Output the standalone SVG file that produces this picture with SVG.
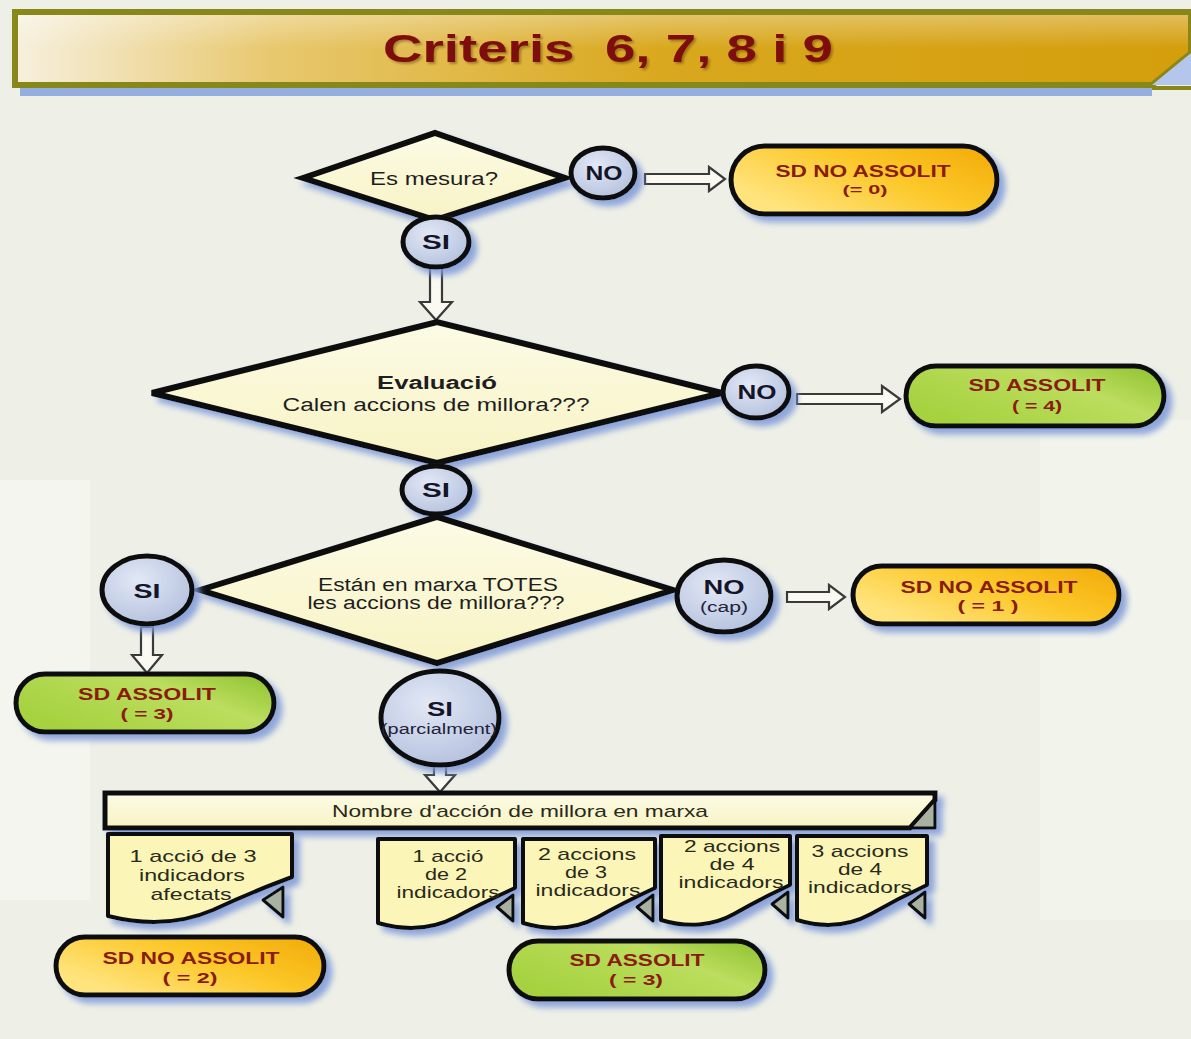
<svg xmlns="http://www.w3.org/2000/svg" width="1191" height="1039" viewBox="0 0 1191 1039">
  <defs>
    <filter id="shadow" x="-20%" y="-20%" width="150%" height="170%">
      <feGaussianBlur in="SourceAlpha" stdDeviation="3"/>
      <feOffset dx="6" dy="6" result="off"/>
      <feFlood flood-color="#7d98d8" flood-opacity="0.85"/>
      <feComposite in2="off" operator="in" result="sh"/>
      <feMerge><feMergeNode in="sh"/><feMergeNode in="SourceGraphic"/></feMerge>
    </filter>
    <filter id="txtShadow" x="-5%" y="-20%" width="110%" height="150%">
      <feGaussianBlur in="SourceAlpha" stdDeviation="1"/>
      <feOffset dx="1.5" dy="1.5" result="off"/>
      <feFlood flood-color="#5a3a00" flood-opacity="0.45"/>
      <feComposite in2="off" operator="in" result="sh"/>
      <feMerge><feMergeNode in="sh"/><feMergeNode in="SourceGraphic"/></feMerge>
    </filter>
    <linearGradient id="titleFill" x1="0" y1="0" x2="1" y2="0">
      <stop offset="0" stop-color="#f6f0de"/>
      <stop offset="0.22" stop-color="#e8c86e"/>
      <stop offset="0.55" stop-color="#d9a81e"/>
      <stop offset="1" stop-color="#d49e0c"/>
    </linearGradient>
    <linearGradient id="titleGloss" x1="0" y1="0" x2="0" y2="1">
      <stop offset="0" stop-color="#ffffff" stop-opacity="0.35"/>
      <stop offset="0.5" stop-color="#ffffff" stop-opacity="0"/>
    </linearGradient>
    <linearGradient id="orange" x1="0" y1="0.6" x2="1" y2="0">
      <stop offset="0" stop-color="#ffe47e"/>
      <stop offset="0.5" stop-color="#fcc82a"/>
      <stop offset="1" stop-color="#f2aa06"/>
    </linearGradient>
    <linearGradient id="green" x1="0" y1="0.6" x2="1" y2="0">
      <stop offset="0" stop-color="#a6d240"/>
      <stop offset="0.6" stop-color="#bcdd5e"/>
      <stop offset="1" stop-color="#8cc12e"/>
    </linearGradient>
    <radialGradient id="bubble" cx="0.4" cy="0.35" r="0.7">
      <stop offset="0" stop-color="#e2e8f5"/>
      <stop offset="1" stop-color="#b4c1de"/>
    </radialGradient>
    <linearGradient id="pale" x1="0" y1="0" x2="0" y2="1">
      <stop offset="0" stop-color="#fcfbe6"/>
      <stop offset="1" stop-color="#f8f3c4"/>
    </linearGradient>
    <style>
      .dia { fill: url(#pale); stroke: #111; stroke-width: 6; stroke-linejoin: miter; filter: url(#shadow); }
      .bub { fill: url(#bubble); stroke: #111; stroke-width: 5; filter: url(#shadow); }
      .term { stroke: #111; stroke-width: 5; filter: url(#shadow); }
      .doc { fill: #fbf6b8; stroke: #111; stroke-width: 4; stroke-linejoin: round; }
      .curl { fill: #a9b1a2; stroke: #111; stroke-width: 3; stroke-linejoin: round; }
      .arr { fill: #fafaf2; stroke: #3a3a3a; stroke-width: 2.2; stroke-linejoin: miter; }
      text { font-family: "Liberation Sans", Arial, sans-serif; text-anchor: middle; fill: #1e1e1e; }
      .lbl { font-size: 18px; }
      .bold { font-weight: bold; }
      .bl { font-size: 20px; font-weight: bold; fill: #15152a; }
      .sm { font-size: 14px; fill: #22223a; }
      .tt { font-size: 17px; font-weight: bold; fill: #8a1c0c; }
      .ts { font-size: 15px; font-weight: bold; fill: #8a1c0c; }
      .dt { font-size: 17px; fill: #2a2a1a; }
    </style>
  </defs>

  <!-- backdrop -->
  <rect x="0" y="0" width="1191" height="1039" fill="#eef0e7"/>
  <rect x="0" y="480" width="90" height="420" fill="#f3f5ee"/>
  <rect x="1040" y="420" width="151" height="500" fill="#f2f4ec"/>

  <!-- title banner -->
  <g id="title">
    <rect x="20" y="88" width="1132" height="8" fill="#94aee0"/>
    <polygon points="15,12 1191,12 1191,53 1152,85 15,85" fill="url(#titleFill)"/>
    <polygon points="15,12 1191,12 1191,53 1152,85 15,85" fill="url(#titleGloss)"/>
    <polygon points="15,12 1191,12 1191,53 1152,85 15,85" fill="none" stroke="#88881a" stroke-width="6" stroke-linejoin="miter"/>
    <polygon points="1152,85 1191,53 1191,85" fill="#b4c6ec"/>
    <line x1="1152" y1="88" x2="1191" y2="88" stroke="#88881a" stroke-width="4"/>
    <text x="608" y="62" filter="url(#txtShadow)" textLength="450" lengthAdjust="spacingAndGlyphs" style="font-size:39px;font-weight:bold;fill:#7e0a0a;white-space:pre">Criteris  6, 7, 8 i 9</text>
  </g>

  <!-- connectors -->
  <g id="connectors">
    <polygon class="arr" points="645,174 709,174 709,167 725,179 709,191 709,184 645,184"/>
    <polygon class="arr" points="430,268 442,268 442,302 452,302 436,320 420,302 430,302"/>
    <polygon class="arr" points="797,394 882,394 882,386 900,399 882,412 882,404 797,404"/>
    <polygon class="arr" points="787,592 829,592 829,585 845,597 829,609 829,602 787,602"/>
    <polygon class="arr" points="141,627 153,627 153,655 162,655 147,673 132,655 141,655"/>
    <polygon class="arr" points="434,766 446,766 446,775 455,775 440,792 425,775 434,775"/>
  </g>

  <!-- decision: Es mesura? -->
  <g id="q-mesura">
    <polygon class="dia" points="303,178 435,133 565,178 435,220"/>
    <text class="lbl" x="434" y="185" textLength="128" lengthAdjust="spacingAndGlyphs">Es mesura?</text>
  </g>
  <g id="no-1">
    <ellipse class="bub" cx="603" cy="173" rx="32" ry="25"/>
    <text class="bl" x="604" y="180" textLength="37" lengthAdjust="spacingAndGlyphs">NO</text>
  </g>
  <g id="end-0">
    <rect class="term" x="731" y="146" width="266" height="68" rx="34" fill="url(#orange)"/>
    <text class="tt" x="863" y="177" textLength="175" lengthAdjust="spacingAndGlyphs">SD NO ASSOLIT</text>
    <text class="ts" x="865" y="194" style="font-size:13px" textLength="45" lengthAdjust="spacingAndGlyphs">(= 0)</text>
  </g>
  <g id="si-1">
    <ellipse class="bub" cx="436" cy="242" rx="33" ry="25"/>
    <text class="bl" x="436" y="249" textLength="28" lengthAdjust="spacingAndGlyphs">SI</text>
  </g>

  <!-- decision: Evaluació -->
  <g id="q-evaluacio">
    <polygon class="dia" points="152,393 437,322 722,393 437,463"/>
    <text class="lbl bold" x="437" y="389" textLength="120" lengthAdjust="spacingAndGlyphs">Evaluació</text>
    <text class="lbl" x="436" y="411" textLength="307" lengthAdjust="spacingAndGlyphs">Calen accions de millora???</text>
  </g>
  <g id="no-2">
    <ellipse class="bub" cx="756" cy="392" rx="33" ry="26"/>
    <text class="bl" x="757" y="399" textLength="39" lengthAdjust="spacingAndGlyphs">NO</text>
  </g>
  <g id="end-4">
    <rect class="term" x="906" y="366" width="258" height="60" rx="30" fill="url(#green)"/>
    <text class="tt" x="1037" y="391" textLength="137" lengthAdjust="spacingAndGlyphs">SD ASSOLIT</text>
    <text class="ts" x="1037" y="411" textLength="50" lengthAdjust="spacingAndGlyphs">( = 4)</text>
  </g>
  <g id="si-2">
    <ellipse class="bub" cx="436" cy="490" rx="34" ry="24"/>
    <text class="bl" x="436" y="497" textLength="28" lengthAdjust="spacingAndGlyphs">SI</text>
  </g>

  <!-- decision: all actions running? -->
  <g id="q-totes">
    <polygon class="dia" points="200,590 437,517 673,590 437,663"/>
    <text class="lbl" x="438" y="591" textLength="240" lengthAdjust="spacingAndGlyphs">Están en marxa TOTES</text>
    <text class="lbl" x="436" y="609" textLength="257" lengthAdjust="spacingAndGlyphs">les accions de millora???</text>
  </g>
  <g id="si-3">
    <ellipse class="bub" cx="147" cy="590" rx="45" ry="34"/>
    <text class="bl" x="147" y="598" textLength="27" lengthAdjust="spacingAndGlyphs">SI</text>
  </g>
  <g id="no-3">
    <ellipse class="bub" cx="724" cy="596" rx="47" ry="36"/>
    <text class="bl" x="724" y="594" textLength="41" lengthAdjust="spacingAndGlyphs">NO</text>
    <text class="sm" x="724" y="612" textLength="48" lengthAdjust="spacingAndGlyphs">(cap)</text>
  </g>
  <g id="end-1">
    <rect class="term" x="853" y="566" width="266" height="58" rx="29" fill="url(#orange)"/>
    <text class="tt" x="989" y="593" textLength="177" lengthAdjust="spacingAndGlyphs">SD NO ASSOLIT</text>
    <text class="ts" x="988" y="611" textLength="61" lengthAdjust="spacingAndGlyphs">( = 1 )</text>
  </g>
  <g id="end-3a">
    <rect class="term" x="16" y="674" width="258" height="58" rx="29" fill="url(#green)"/>
    <text class="tt" x="147" y="700" textLength="138" lengthAdjust="spacingAndGlyphs">SD ASSOLIT</text>
    <text class="ts" x="147" y="719" textLength="53" lengthAdjust="spacingAndGlyphs">( = 3)</text>
  </g>
  <g id="si-partial">
    <ellipse class="bub" cx="440" cy="718" rx="59" ry="47"/>
    <text class="bl" x="440" y="716" style="font-size:21px" textLength="26" lengthAdjust="spacingAndGlyphs">SI</text>
    <text class="sm" x="439" y="734" textLength="116" lengthAdjust="spacingAndGlyphs">(parcialment)</text>
  </g>

  <!-- count bar -->
  <g id="count-bar">
    <g filter="url(#shadow)">
      <polygon points="105,793 935,793 935,800 910,828 105,828" fill="url(#pale)" stroke="#111" stroke-width="5" stroke-linejoin="miter"/>
      <polygon class="curl" points="910,828 935,800 935,828"/>
    </g>
    <text class="dt" x="520" y="817" textLength="376" lengthAdjust="spacingAndGlyphs">Nombre d'acción de millora en marxa</text>
  </g>

  <!-- outcome documents -->
  <g id="doc-1" transform="translate(108,834)">
    <g filter="url(#shadow)">
      <path class="doc" d="M0,0 H184 V43 C165,50 135,62 105,76 C75,89 40,92 0,82 Z"/>
      <polygon class="curl" points="155,66 175,53 175,83"/>
    </g>
    <text class="dt" x="85" y="28" textLength="127" lengthAdjust="spacingAndGlyphs">1 acció de 3</text>
    <text class="dt" x="84" y="47" textLength="106" lengthAdjust="spacingAndGlyphs">indicadors</text>
    <text class="dt" x="83" y="66" textLength="81" lengthAdjust="spacingAndGlyphs">afectats</text>
  </g>
  <g id="doc-2" transform="translate(378,839)">
    <g filter="url(#shadow)">
      <path class="doc" d="M0,0 H137 V49 C122,56 100,66 78,78 C55,90 28,92 0,84 Z"/>
      <polygon class="curl" points="119,68 135,56 135,82"/>
    </g>
    <text class="dt" x="70" y="23" textLength="71" lengthAdjust="spacingAndGlyphs">1 acció</text>
    <text class="dt" x="68" y="41" textLength="42" lengthAdjust="spacingAndGlyphs">de 2</text>
    <text class="dt" x="70" y="59" textLength="103" lengthAdjust="spacingAndGlyphs">indicadors</text>
  </g>
  <g id="doc-3" transform="translate(523,839)">
    <g filter="url(#shadow)">
      <path class="doc" d="M0,0 H132 V49 C117,56 96,66 75,78 C53,90 27,92 0,84 Z"/>
      <polygon class="curl" points="114,68 130,56 130,82"/>
    </g>
    <text class="dt" x="64" y="21" textLength="98" lengthAdjust="spacingAndGlyphs">2 accions</text>
    <text class="dt" x="63" y="39" textLength="42" lengthAdjust="spacingAndGlyphs">de 3</text>
    <text class="dt" x="65" y="57" textLength="105" lengthAdjust="spacingAndGlyphs">indicadors</text>
  </g>
  <g id="doc-4" transform="translate(661,836)">
    <g filter="url(#shadow)">
      <path class="doc" d="M0,0 H129 V49 C114,56 94,66 73,78 C52,90 26,92 0,84 Z"/>
      <polygon class="curl" points="111,68 127,56 127,82"/>
    </g>
    <text class="dt" x="71" y="16" textLength="96" lengthAdjust="spacingAndGlyphs">2 accions</text>
    <text class="dt" x="71" y="34" textLength="45" lengthAdjust="spacingAndGlyphs">de 4</text>
    <text class="dt" x="70" y="52" textLength="105" lengthAdjust="spacingAndGlyphs">indicadors</text>
  </g>
  <g id="doc-5" transform="translate(797,836)">
    <g filter="url(#shadow)">
      <path class="doc" d="M0,0 H130 V49 C115,56 95,66 74,78 C52,90 26,92 0,84 Z"/>
      <polygon class="curl" points="112,68 128,56 128,82"/>
    </g>
    <text class="dt" x="63" y="21" textLength="97" lengthAdjust="spacingAndGlyphs">3 accions</text>
    <text class="dt" x="63" y="39" textLength="44" lengthAdjust="spacingAndGlyphs">de 4</text>
    <text class="dt" x="63" y="57" textLength="104" lengthAdjust="spacingAndGlyphs">indicadors</text>
  </g>

  <!-- bottom outcomes -->
  <g id="end-2">
    <rect class="term" x="56" y="937" width="268" height="58" rx="29" fill="url(#orange)"/>
    <text class="tt" x="191" y="964" textLength="177" lengthAdjust="spacingAndGlyphs">SD NO ASSOLIT</text>
    <text class="ts" x="190" y="983" textLength="55" lengthAdjust="spacingAndGlyphs">( = 2)</text>
  </g>
  <g id="end-3b">
    <rect class="term" x="509" y="941" width="256" height="58" rx="29" fill="url(#green)"/>
    <text class="tt" x="637" y="966" textLength="135" lengthAdjust="spacingAndGlyphs">SD ASSOLIT</text>
    <text class="ts" x="636" y="985" textLength="54" lengthAdjust="spacingAndGlyphs">( = 3)</text>
  </g>
</svg>
